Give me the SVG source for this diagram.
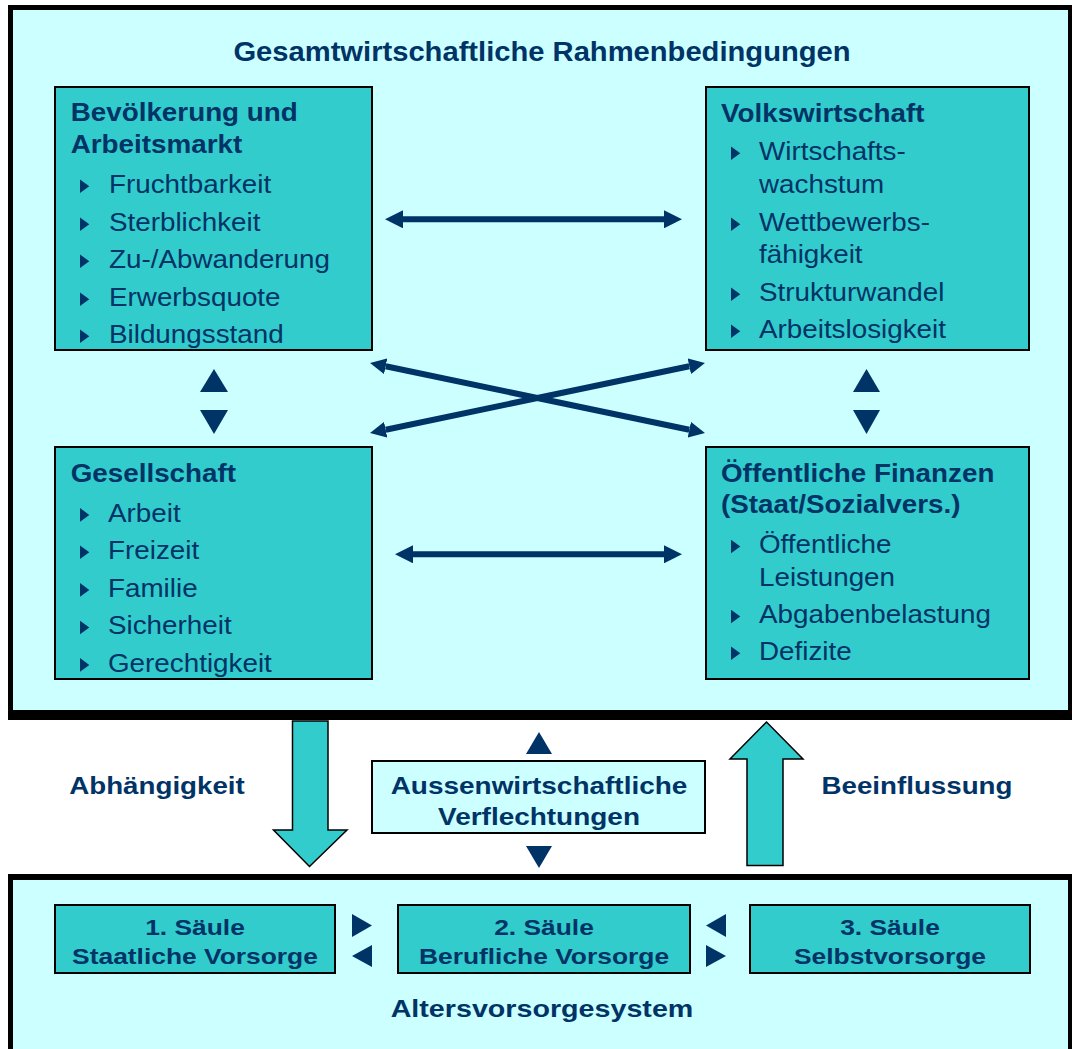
<svg xmlns="http://www.w3.org/2000/svg" width="1072" height="1049" viewBox="0 0 1072 1049">
<style>
  .t { font-family: "Liberation Sans", Arial, sans-serif; fill: #003366; }
  .b { font-weight: bold; }
  .box { fill: #33CCCC; stroke: #000; stroke-width: 2; }
  .lbox { fill: #CCFFFF; stroke: #000; stroke-width: 2; }
  .it { font-size: 26px; }
  .mid { font-size: 23.7px; font-weight: bold; text-anchor: middle; }
  .bot { font-size: 22px; font-weight: bold; text-anchor: middle; }
  .tri { fill: #003366; }
  .big { fill: #33CCCC; stroke: #000; stroke-width: 1.5; stroke-linejoin: miter; }
  .conn { stroke: #003366; fill: none; }
</style>
<defs>
  <marker id="ahH" markerUnits="userSpaceOnUse" markerWidth="18" markerHeight="18" viewBox="0 0 18 18" refX="0" refY="9" orient="auto-start-reverse">
    <path d="M0,0 L18,9 L0,18 z" fill="#003366"/>
  </marker>
  <marker id="ahX" markerUnits="userSpaceOnUse" markerWidth="16" markerHeight="16" viewBox="0 0 16 16" refX="0" refY="8" orient="auto-start-reverse">
    <path d="M0,0 L16,8 L0,16 z" fill="#003366"/>
  </marker>
  <path id="bul" d="M0,-13.6 L9.3,-6.8 L0,0 z" fill="#003366"/>
</defs>

<!-- frames -->
<g id="frame-top">
  <rect x="8" y="5" width="1064" height="715" fill="#000"/>
  <rect x="13" y="10" width="1055" height="700" fill="#CCFFFF"/>
  <text class="t b" font-size="27" text-anchor="middle" transform="translate(542,61) scale(1.08,1)">Gesamtwirtschaftliche Rahmenbedingungen</text>
</g>
<g id="frame-bottom">
  <rect x="8" y="874" width="1064" height="180" fill="#000"/>
  <rect x="13" y="880" width="1055" height="175" fill="#CCFFFF"/>
  <text class="t b" font-size="23.5" text-anchor="middle" transform="translate(542,1017) scale(1.22,1)">Altersvorsorgesystem</text>
</g>

<!-- Box 1 -->
<g id="bevoelkerung">
  <rect class="box" x="55" y="87" width="317" height="263"/>
  <text class="t b it" transform="translate(70.7,120.7) scale(1.07,1)">Bevölkerung und</text>
  <text class="t b it" transform="translate(70.7,153) scale(1.07,1)">Arbeitsmarkt</text>
  <use href="#bul" x="80" y="193"/><text class="t it" transform="translate(109,193) scale(1.07,1)">Fruchtbarkeit</text>
  <use href="#bul" x="80" y="231"/><text class="t it" transform="translate(109,231) scale(1.07,1)">Sterblichkeit</text>
  <use href="#bul" x="80" y="268"/><text class="t it" transform="translate(109,268) scale(1.07,1)">Zu-/Abwanderung</text>
  <use href="#bul" x="80" y="306"/><text class="t it" transform="translate(109,306) scale(1.07,1)">Erwerbsquote</text>
  <use href="#bul" x="80" y="343"/><text class="t it" transform="translate(109,343) scale(1.07,1)">Bildungsstand</text>
</g>

<!-- Box 2 -->
<g id="volkswirtschaft">
  <rect class="box" x="706" y="87" width="323" height="263"/>
  <text class="t b it" transform="translate(721,121.7) scale(1.07,1)">Volkswirtschaft</text>
  <use href="#bul" x="731" y="160"/><text class="t it" transform="translate(759,160) scale(1.07,1)">Wirtschafts-</text>
  <text class="t it" transform="translate(759,193) scale(1.07,1)">wachstum</text>
  <use href="#bul" x="731" y="231"/><text class="t it" transform="translate(759,231) scale(1.07,1)">Wettbewerbs-</text>
  <text class="t it" transform="translate(759,263) scale(1.07,1)">fähigkeit</text>
  <use href="#bul" x="731" y="301"/><text class="t it" transform="translate(759,301) scale(1.07,1)">Strukturwandel</text>
  <use href="#bul" x="731" y="338"/><text class="t it" transform="translate(759,338) scale(1.07,1)">Arbeitslosigkeit</text>
</g>

<!-- Box 3 -->
<g id="gesellschaft">
  <rect class="box" x="55" y="447" width="317" height="232"/>
  <text class="t b it" transform="translate(70.7,481.7) scale(1.07,1)">Gesellschaft</text>
  <use href="#bul" x="80" y="521.7"/><text class="t it" transform="translate(108,521.7) scale(1.07,1)">Arbeit</text>
  <use href="#bul" x="80" y="559"/><text class="t it" transform="translate(108,559) scale(1.07,1)">Freizeit</text>
  <use href="#bul" x="80" y="596.7"/><text class="t it" transform="translate(108,596.7) scale(1.07,1)">Familie</text>
  <use href="#bul" x="80" y="634.3"/><text class="t it" transform="translate(108,634.3) scale(1.07,1)">Sicherheit</text>
  <use href="#bul" x="80" y="671.7"/><text class="t it" transform="translate(108,671.7) scale(1.07,1)">Gerechtigkeit</text>
</g>

<!-- Box 4 -->
<g id="finanzen">
  <rect class="box" x="706" y="447" width="323" height="232"/>
  <text class="t b it" transform="translate(721,481.7) scale(1.07,1)">Öffentliche Finanzen</text>
  <text class="t b it" transform="translate(721,513.3) scale(1.07,1)">(Staat/Sozialvers.)</text>
  <use href="#bul" x="731" y="553.3"/><text class="t it" transform="translate(759,553.3) scale(1.07,1)">Öffentliche</text>
  <text class="t it" transform="translate(759,585.7) scale(1.07,1)">Leistungen</text>
  <use href="#bul" x="731" y="623.3"/><text class="t it" transform="translate(759,623.3) scale(1.07,1)">Abgabenbelastung</text>
  <use href="#bul" x="731" y="660"/><text class="t it" transform="translate(759,660) scale(1.07,1)">Defizite</text>
</g>

<!-- Aussenwirtschaft -->
<g id="aussenwirtschaft">
  <rect class="lbox" x="372" y="761" width="333" height="72"/>
  <text class="t mid" transform="translate(539,794) scale(1.18,1)">Aussenwirtschaftliche</text>
  <text class="t mid" transform="translate(539,825) scale(1.18,1)">Verflechtungen</text>
</g>

<!-- Säulen -->
<g id="saeule1">
  <rect class="box" x="55" y="905" width="280" height="68"/>
  <text class="t bot" transform="translate(195,935) scale(1.2,1)">1. Säule</text>
  <text class="t bot" transform="translate(195,964) scale(1.2,1)">Staatliche Vorsorge</text>
</g>
<g id="saeule2">
  <rect class="box" x="398" y="905" width="292" height="68"/>
  <text class="t bot" transform="translate(544,935) scale(1.2,1)">2. Säule</text>
  <text class="t bot" transform="translate(544,964) scale(1.2,1)">Berufliche Vorsorge</text>
</g>
<g id="saeule3">
  <rect class="box" x="750" y="905" width="280" height="68"/>
  <text class="t bot" transform="translate(890,935) scale(1.2,1)">3. Säule</text>
  <text class="t bot" transform="translate(890,964) scale(1.2,1)">Selbstvorsorge</text>
</g>

<!-- connectors -->
<g id="connectors">
  <line class="conn" stroke-width="6" x1="403" y1="219.3" x2="664" y2="219.3" marker-start="url(#ahH)" marker-end="url(#ahH)"/>
  <line class="conn" stroke-width="6" x1="413" y1="554.3" x2="664" y2="554.3" marker-start="url(#ahH)" marker-end="url(#ahH)"/>
  <line class="conn" stroke-width="6" x1="385.7" y1="366.3" x2="689.3" y2="429.7" marker-start="url(#ahX)" marker-end="url(#ahX)"/>
  <line class="conn" stroke-width="6" x1="385.7" y1="429.7" x2="689.3" y2="366.3" marker-start="url(#ahX)" marker-end="url(#ahX)"/>

  <polygon class="tri" points="200,392 214,369 228,392"/>
  <polygon class="tri" points="200,410 228,410 214,434"/>
  <polygon class="tri" points="853,392 866.5,369 880,392"/>
  <polygon class="tri" points="853,410 880,410 866.5,434"/>

  <polygon class="tri" points="526,754 539,732 552,754"/>
  <polygon class="tri" points="526,846 552,846 539,868"/>

  <polygon class="tri" points="352,914 372,925.5 352,937"/>
  <polygon class="tri" points="372,945 352,956 372,967"/>
  <polygon class="tri" points="726,914 706,925.5 726,937"/>
  <polygon class="tri" points="706,945 726,956 706,967"/>

  <polygon class="big" points="292.5,721 328,721 328,830 347,830 309.5,866.5 273.5,830 292.5,830"/>
  <polygon class="big" points="747,865.5 783,865.5 783,759 803,759 766.5,722 730,759 747,759"/>
  <text class="t mid" transform="translate(157,794) scale(1.17,1)">Abhängigkeit</text>
  <text class="t mid" transform="translate(917,794) scale(1.17,1)">Beeinflussung</text>
</g>
</svg>
